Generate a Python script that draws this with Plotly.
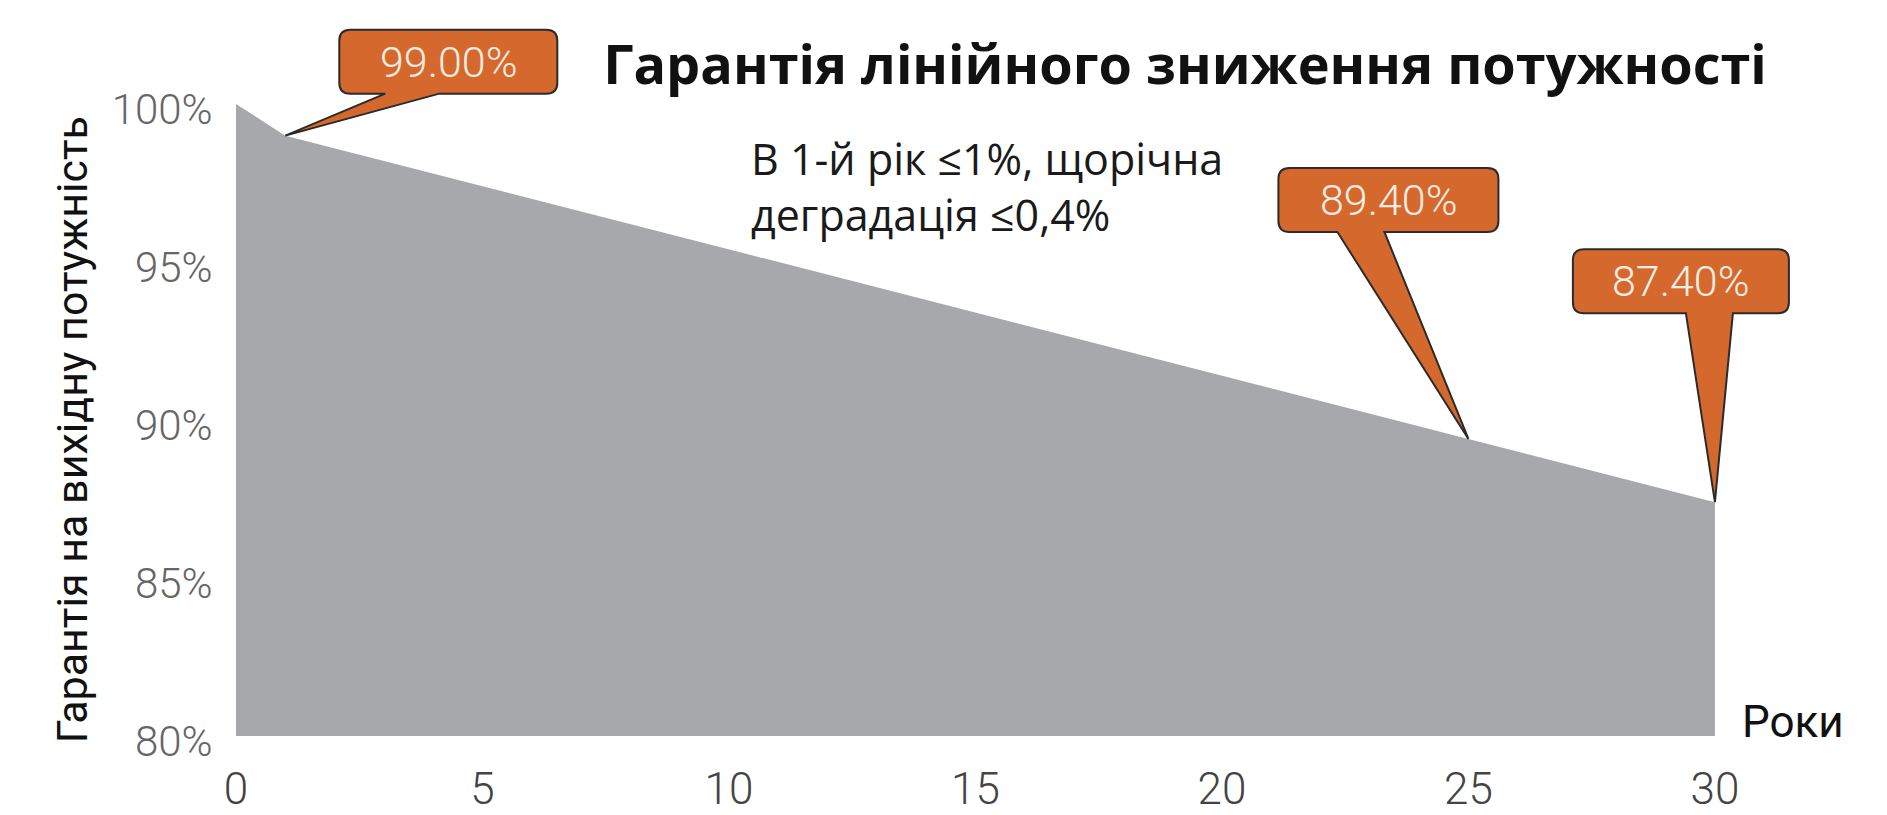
import plotly.graph_objects as go

# ---- data ----
years = [0, 1, 25, 30]
guarantee = [100.0, 99.0, 89.4, 87.4]
x_ticks = [0, 5, 10, 15, 20, 25, 30]
y_ticks = [80, 85, 90, 95, 100]
y_tick_labels = ["80%", "85%", "90%", "95%", "100%"]
callout_years = [1, 25, 30]
callout_labels = ["99.00%", "89.40%", "87.40%"]

title_text = "Гарантія лінійного зниження потужності"
note_text = "В 1-й рік ≤1%, щорічна<br>деградація ≤0,4%"
y_title = "Гарантія на вихідну потужність"
x_title = "Роки"

NARROW = "Roboto, Noto Sans, sans-serif"
ORANGE = "#D5692D"
GRAY = "#A7A8AC"

# callout geometry (pixels relative to the pointed data point, y up)
# (left, right, bottom, top, tail_base_left, tail_base_right)
callout_geom = [
    (54, 272, 42, 106, 100, 154),
    (-190, 30, 207, 271, -131, -84),
    (-142, 74, 189, 253, -29, 18),
]

fig = go.Figure()
fig.add_trace(go.Scatter(
    x=years, y=guarantee, mode="lines", fill="tozeroy",
    fillcolor=GRAY, line=dict(color=GRAY, width=0), hoverinfo="skip",
    showlegend=False,
))


def callout_path(l, r, b, t, b1, b2, rad=11):
    return (
        f"M {l+rad},{t} L {r-rad},{t} Q {r},{t} {r},{t-rad} "
        f"L {r},{b+rad} Q {r},{b} {r-rad},{b} "
        f"L {b2},{b} L 0,0 L {b1},{b} "
        f"L {l+rad},{b} Q {l},{b} {l},{b+rad} "
        f"L {l},{t-rad} Q {l},{t} {l+rad},{t} Z"
    )


for yr, lab, g in zip(callout_years, callout_labels, callout_geom):
    val = guarantee[years.index(yr)]
    l, r, b, t, b1, b2 = g
    fig.add_shape(
        type="path", xref="x", yref="y",
        xsizemode="pixel", ysizemode="pixel", xanchor=yr, yanchor=val,
        path=callout_path(l, r, b, t, b1, b2),
        fillcolor=ORANGE, line=dict(color="#2b2b2b", width=2), layer="above",
    )
    fig.add_annotation(
        x=yr, y=val, xref="x", yref="y", text=lab, showarrow=False,
        xshift=(l + r) / 2, yshift=(b + t) / 2,
        font=dict(family=NARROW, size=43, color="#FBEDE4", weight=300),
    )

fig.add_annotation(
    x=0.318, y=0.768, xref="paper", yref="paper", text=note_text,
    showarrow=False, xanchor="left", yanchor="middle", align="left",
    font=dict(family="Open Sans, Noto Sans, sans-serif", size=43, color="#1a1a1a"),
)
fig.add_annotation(
    x=-0.1017, y=0.427, xref="paper", yref="paper", text=y_title,
    textangle=-90, showarrow=False, xanchor="center", yanchor="middle",
    font=dict(family=NARROW, size=43, color="#111"),
)
fig.add_annotation(
    x=0.966, y=0.0196, xref="paper", yref="paper", text=x_title,
    showarrow=False, xanchor="center", yanchor="middle",
    font=dict(family=NARROW, size=44, color="#111"),
)

fig.update_layout(
    width=1887, height=815,
    margin=dict(l=236, r=39, t=20, b=79),
    paper_bgcolor="white", plot_bgcolor="white",
    title=dict(
        text=title_text, x=0.628, xanchor="center", y=0.92, yanchor="middle",
        font=dict(family="Open Sans, Noto Sans, sans-serif", size=54, color="#111", weight="bold"),
    ),
    xaxis=dict(
        range=[0, 32.7], tickvals=x_ticks, showgrid=False, zeroline=False,
        showline=False, ticks="outside", ticklen=14, tickcolor="rgba(0,0,0,0)",
        automargin=False,
        tickfont=dict(family=NARROW, size=44, color="#444", weight=300),
    ),
    yaxis=dict(
        range=[80, 102.66], tickvals=y_ticks, ticktext=y_tick_labels,
        showgrid=False, zeroline=False, showline=False, ticks="outside",
        ticklen=14, tickcolor="rgba(0,0,0,0)", automargin=False, ticklabelshift=5,
        tickfont=dict(family=NARROW, size=42, color="#666", weight=300),
    ),
)

fig.write_html("out.html", config={"displayModeBar": False},
               post_script="document.body.style.margin='0';")
